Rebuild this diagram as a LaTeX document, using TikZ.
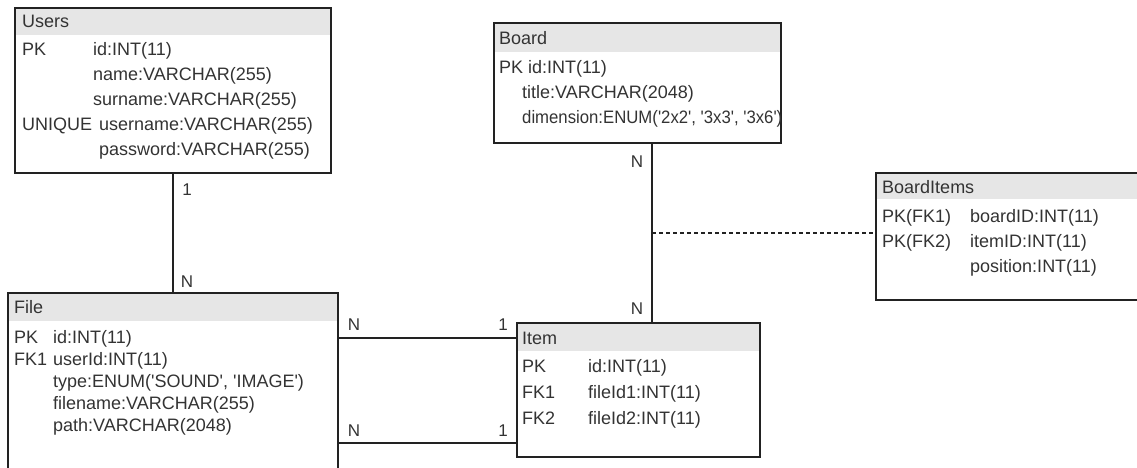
\documentclass[tikz,border=0pt]{standalone}
\usepackage{fontspec}
\setmainfont{Liberation Sans}
\definecolor{hdrgray}{HTML}{E6E6E6}
\definecolor{txtgray}{HTML}{333333}
\definecolor{linegray}{HTML}{222222}
\newcommand{\sqt}{\textquotesingle}
\begin{document}
\begin{tikzpicture}[x=1pt,y=-1pt,
  box/.style={draw=linegray,line width=1.3pt,inner sep=0pt,outer sep=0pt,anchor=north west},
  hdr/.style={fill=hdrgray,inner sep=0pt,outer sep=0pt,anchor=north west,minimum height=28pt},
  txt/.style={anchor=west,inner sep=0pt,text height=15pt,text depth=2pt,text=txtgray,font=\fontsize{18}{21}\selectfont},
  lbl/.style={anchor=center,inner sep=0pt,text height=14pt,text depth=2pt,text=txtgray,font=\fontsize{17}{20}\selectfont},
  conn/.style={draw=linegray,line width=1.3pt},
  dconn/.style={draw=linegray,line width=1.3pt,dash pattern=on 4pt off 3pt}]
\useasboundingbox (0,0) rectangle (1137,468);
% ---------- Users
\node[hdr,minimum width=316pt,minimum height=27pt] (usersH) at (15,8) {};
\node[box,minimum width=316pt,minimum height=165pt] (users) at (15,8) {};
\node[txt] (usersT) at (22,21) {Users};
\node[txt] (u1k) at (22,49) {PK};
\node[txt] (u1v) at (93,49) {id:INT(11)};
\node[txt] (u2v) at (93,74) {name:VARCHAR(255)};
\node[txt] (u3v) at (93,99) {surname:VARCHAR(255)};
\node[txt] (u4k) at (22,124) {UNIQUE};
\node[txt] (u4v) at (99,124) {username:VARCHAR(255)};
\node[txt] (u5v) at (99,149) {password:VARCHAR(255)};
% ---------- Board
\node[hdr,minimum width=287pt,minimum height=29pt] (boardH) at (494,23) {};
\node[box,minimum width=287pt,minimum height=120pt] (board) at (494,23) {};
\node[txt] (boardT) at (499,38) {Board};
\node[txt] (b1) at (499,67) {PK id:INT(11)};
\node[txt] (b2v) at (522,92) {title:VARCHAR(2048)};
\node[txt] (b3v) at (522,117) {\scalebox{0.93}[1]{dimension:ENUM(\sqt2x2\sqt, \sqt3x3\sqt, \sqt3x6\sqt)}};
% ---------- BoardItems
\node[hdr,minimum width=300pt,minimum height=26pt] (biH) at (876,173) {};
\node[box,minimum width=300pt,minimum height=127pt] (bi) at (876,173) {};
\node[txt] (biT) at (882,187) {BoardItems};
\node[txt] (bi1k) at (882,216) {PK(FK1)};
\node[txt] (bi1v) at (970,216) {boardID:INT(11)};
\node[txt] (bi2k) at (882,241) {PK(FK2)};
\node[txt] (bi2v) at (970,241) {itemID:INT(11)};
\node[txt] (bi3v) at (970,266) {position:INT(11)};
% ---------- File
\node[hdr,minimum width=330pt,minimum height=28pt] (fileH) at (8,293) {};
\node[box,minimum width=330pt,minimum height=200pt] (file) at (8,293) {};
\node[txt] (fileT) at (14,307) {File};
\node[txt] (f1k) at (14,337) {PK};
\node[txt] (f1v) at (53,337) {id:INT(11)};
\node[txt] (f2k) at (14,359) {FK1};
\node[txt] (f2v) at (53,359) {userId:INT(11)};
\node[txt] (f3v) at (53,381) {type:ENUM(\sqt SOUND\sqt, \sqt IMAGE\sqt)};
\node[txt] (f4v) at (53,403) {filename:VARCHAR(255)};
\node[txt] (f5v) at (53,425) {path:VARCHAR(2048)};
% ---------- Item
\node[hdr,minimum width=243pt,minimum height=28pt] (itemH) at (517,323) {};
\node[box,minimum width=243pt,minimum height=134pt] (item) at (517,323) {};
\node[txt] (itemT) at (522,338) {Item};
\node[txt] (i1k) at (522,366) {PK};
\node[txt] (i1v) at (588,366) {id:INT(11)};
\node[txt] (i2k) at (522,392) {FK1};
\node[txt] (i2v) at (588,392) {fileId1:INT(11)};
\node[txt] (i3k) at (522,418) {FK2};
\node[txt] (i3v) at (588,418) {fileId2:INT(11)};
% ---------- connectors
\coordinate (vx) at (652,0);
\coordinate (r1) at (0,338);
\coordinate (r2) at (0,443);
\coordinate (rd) at (0,233);
\draw[conn] (users.south) -- (file.north);
\draw[conn] (board.south -| vx) -- (item.north -| vx);
\draw[dconn] (vx |- rd) -- (bi.west |- rd);
\draw[conn] (file.east |- r1) -- (item.west |- r1);
\draw[conn] (file.east |- r2) -- (item.west |- r2);
% ---------- labels
\node[lbl] (lu1) at (187,189) {1};
\node[lbl] (luN) at (187,281) {N};
\node[lbl] (lbN) at (637,161) {N};
\node[lbl] (liN) at (637,308) {N};
\node[lbl] (lf1N) at (354,324) {N};
\node[lbl] (lf11) at (503,324) {1};
\node[lbl] (lf2N) at (354,430) {N};
\node[lbl] (lf21) at (503,430) {1};
\end{tikzpicture}
\end{document}
